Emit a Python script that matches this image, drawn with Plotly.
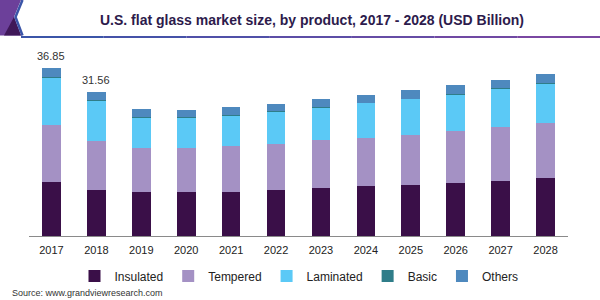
import plotly.graph_objects as go

years = ["2017", "2018", "2019", "2020", "2021", "2022", "2023", "2024", "2025", "2026", "2027", "2028"]
insulated = [11.90, 10.15, 9.65, 9.65, 9.78, 10.09, 10.53, 10.97, 11.25, 11.63, 12.13, 12.72]
tempered  = [12.50, 10.70, 9.78, 9.65, 10.02, 10.16, 10.53, 10.66, 11.03, 11.54, 11.91, 12.20]
laminated = [10.40, 9.02, 6.67, 6.71, 6.73, 7.17, 7.15, 7.61, 7.83, 7.98, 8.33, 8.55]
basic     = [0.05, 0.05, 0.05, 0.05, 0.05, 0.05, 0.05, 0.05, 0.05, 0.05, 0.05, 0.05]
others    = [2.00, 1.64, 1.67, 1.54, 1.67, 1.60, 1.75, 1.69, 1.82, 2.04, 1.91, 2.06]
label_years = ["2017", "2018"]
label_values = [36.85, 31.56]

series = [
    ("Insulated", insulated, "#3a0f48"),
    ("Tempered", tempered, "#a491c4"),
    ("Laminated", laminated, "#5bc9f6"),
    ("Basic", basic, "#2f7d89"),
    ("Others", others, "#4e89be"),
]

FONT = "Liberation Sans, Arial, sans-serif"
W, H = 600, 300
L, R, T, B = 29, 32, 54, 64

def px(x):
    return (x - L) / (W - L - R)

def py(y):
    return (H - B - y) / (H - T - B)

fig = go.Figure()
for name, vals, col in series:
    fig.add_trace(go.Bar(x=years, y=vals, name=name, marker=dict(color=col, line=dict(width=0))))

for yr, v in zip(label_years, label_values):
    fig.add_annotation(x=years.index(yr), y=v, text=f"{v:.2f}", showarrow=False, yanchor="bottom", yshift=4,
                       font=dict(family=FONT, size=11, color="#333333"))

# header decoration
shapes = []
shapes.append(dict(type="path", xref="paper", yref="paper",
                   path=f"M {px(0)},{py(0)} L {px(21)},{py(0)} L {px(14)},{py(17)} L {px(21)},{py(35.5)} L {px(0)},{py(35.5)} Z",
                   fillcolor="#6c409a", line=dict(width=0), layer="above"))
shapes.append(dict(type="path", xref="paper", yref="paper",
                   path=f"M {px(14)},{py(17)} L {px(21)},{py(35.5)} L {px(4)},{py(35.5)} Z",
                   fillcolor="#3f1858", line=dict(width=0), layer="above"))
shapes.append(dict(type="path", xref="paper", yref="paper",
                   path=f"M {px(22.5)},{py(0)} L {px(15.5)},{py(17)} L {px(22.5)},{py(35.5)}",
                   line=dict(color="#3b55a8", width=2.5), layer="above"))
# gradient-ish line under title
seg_cols = ["#3b55a8", "#4552a8", "#5050a8", "#5c4ea6", "#664ca5", "#7049a3", "#7a47a2"]
n = len(seg_cols)
for i, c in enumerate(seg_cols):
    x0 = 21 + (600 - 21) * i / n
    x1 = 21 + (600 - 21) * (i + 1) / n
    shapes.append(dict(type="line", xref="paper", yref="paper", x0=px(x0), x1=px(x1), y0=py(37), y1=py(37),
                       line=dict(color=c, width=2), layer="above"))

fig.update_layout(
    width=W, height=H,
    margin=dict(l=L, r=R, t=T, b=B, autoexpand=False),
    barmode="stack",
    bargap=0.586,
    plot_bgcolor="white", paper_bgcolor="white",
    font=dict(family=FONT, size=12, color="#222222"),
    title=dict(text="<b>U.S. flat glass market size, by product, 2017 - 2028 (USD Billion)</b>",
               x=px(312), xanchor="center", xref="paper", y=1 - 20 / H, yanchor="middle",
               font=dict(family=FONT, size=14, color="#2d1b4c")),
    xaxis=dict(type="category", range=[-0.5, len(years) - 0.5], showgrid=False, zeroline=False,
               showline=True, linecolor="#8a8a8a", linewidth=1,
               ticks="", tickfont=dict(family=FONT, size=11, color="#222222"), ticklabelstandoff=4),
    yaxis=dict(range=[0, 40], visible=False, fixedrange=True),
    showlegend=True,
    legend=dict(orientation="h", x=px(299), xanchor="center", y=py(276), yanchor="middle",
                font=dict(family=FONT, size=12, color="#222222"), traceorder="normal",
                itemwidth=30, bgcolor="rgba(0,0,0,0)"),
    shapes=shapes,
)
fig.add_annotation(xref="paper", yref="paper", x=px(10), y=py(293), xanchor="left", yanchor="middle",
                   text="Source: www.grandviewresearch.com", showarrow=False,
                   font=dict(family=FONT, size=9, color="#333333"))

fig.write_html("out.html")
